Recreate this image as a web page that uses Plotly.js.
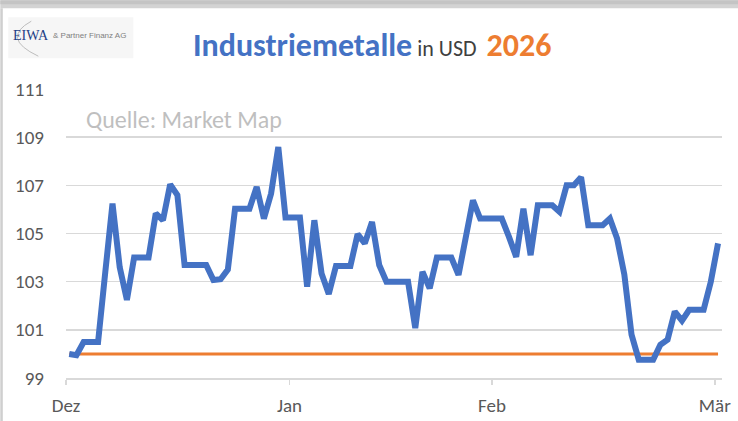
<!DOCTYPE html>
<html>
<head>
<meta charset="utf-8">
<script src="https://cdn.plot.ly/plotly-3.0.1.min.js"></script>
<style>
html,body{margin:0;padding:0;background:#fff;}
#chart{width:738px;height:421px;}
</style>
</head>
<body>
<div id="chart"></div>
<script>
// Daily index values (Dec 1 = day 0)
const metalValues = [
  100.0, 99.95, 100.49, 100.49, 100.49, 103.4, 106.24, 103.6, 102.24, 104.0,
  104.0, 104.0, 105.83, 105.55, 107.04, 106.6, 103.69, 103.69, 103.69, 103.69,
  103.07, 103.1, 103.5, 106.03, 106.03, 106.03, 106.93, 105.62, 106.66, 108.59,
  105.66, 105.66, 105.66, 102.79, 105.55, 103.34, 102.49, 103.65, 103.65, 103.65,
  104.97, 104.59, 105.48, 103.69, 103.0, 103.0, 103.0, 103.0, 101.07, 103.41,
  102.72, 104.0, 104.0, 104.0, 103.28, 104.86, 106.38, 105.62, 105.62, 105.62,
  105.62, 104.86, 104.03, 106.03, 104.1, 106.17, 106.17, 106.17, 105.9, 107.0,
  107.0, 107.34, 105.34, 105.34, 105.34, 105.62, 104.79, 103.3, 100.8, 99.76,
  99.76, 99.76, 100.38, 100.59, 101.76, 101.38, 101.83, 101.83, 101.83, 103.0,
  104.59
];
const baselineValues = [100, 100];
const monthLabels = ["Dez", "Jan", "Feb", "Mär"];
const monthTickDays = [0, 31, 59.1, 90];
const yTicks = [99, 101, 103, 105, 107, 109, 111];

const dayX = metalValues.map((_, i) => i + 0.45);
const baseX = [dayX[0], dayX[dayX.length - 1]];

const FONT = "Carlito, Calibri, Lato, sans-serif";

// pixel -> paper helpers for decorations
const L = 65.7, R = 721.7, T = 88.8, B = 377.7;
const px = v => (v - L) / (R - L);
const py = v => (B - v) / (B - T);

const traces = [
  {
    x: baseX, y: baselineValues, type: "scatter", mode: "lines",
    line: {color: "#ED7D31", width: 3}, hoverinfo: "skip"
  },
  {
    x: dayX, y: metalValues, type: "scatter", mode: "lines",
    line: {color: "#4472C4", width: 6, shape: "linear"}
  }
];

const layout = {
  width: 738, height: 421,
  margin: {l: L, r: 738 - R, t: T, b: 421 - B, pad: 0},
  paper_bgcolor: "#ffffff",
  plot_bgcolor: "#ffffff",
  showlegend: false,
  font: {family: FONT, color: "#595959", size: 19},
  xaxis: {
    range: [0, 91], tickvals: monthTickDays, ticktext: monthLabels,
    showgrid: false, zeroline: false,
    showline: true, linecolor: "#d9d9d9", linewidth: 1.5,
    ticks: "outside", ticklen: 5, tickwidth: 1.5, tickcolor: "#d9d9d9",
    ticklabelstandoff: 5,
    tickfont: {family: FONT, size: 19, color: "#595959"}
  },
  yaxis: {
    range: [99, 111], tickvals: yTicks,
    showgrid: true, gridcolor: "#d9d9d9", gridwidth: 1.5,
    zeroline: false, showline: false, ticks: "",
    ticklabelstandoff: 21,
    tickfont: {family: FONT, size: 19, color: "#595959"}
  },
  shapes: [
    {type: "rect", xref: "paper", yref: "paper", x0: px(0), x1: px(738), y0: py(8), y1: py(0),
     fillcolor: "#d3d3d3", line: {width: 0}, layer: "above"},
    {type: "rect", xref: "paper", yref: "paper", x0: px(0), x1: px(738), y0: py(4), y1: py(0),
     fillcolor: "#c4c4c4", line: {width: 0}, layer: "above"},
    {type: "rect", xref: "paper", yref: "paper", x0: px(0), x1: px(2.5), y0: py(421), y1: py(8),
     fillcolor: "#cfcfcf", line: {width: 0}, layer: "above"},
    {type: "rect", xref: "paper", yref: "paper", x0: px(8), x1: px(133), y0: py(58), y1: py(17),
     fillcolor: "#f6f6f6", line: {width: 0}, layer: "below"},
    {type: "path", xref: "paper", yref: "paper",
     path: `M ${px(31)} ${py(21)} Q ${px(0)} ${py(38)} ${px(38)} ${py(56)}`,
     line: {color: "#bdbdbd", width: 1}}
  ],
  annotations: [
    {xref: "paper", yref: "paper", x: px(372), y: py(45), xanchor: "center", yanchor: "middle",
     showarrow: false,
     text: '<b><span style="color:#4472C4;font-size:32px">Industriemetalle</span></b>' +
           '<span style="color:#404040;font-size:22px"> in USD  </span>' +
           '<b><span style="color:#ED7D31;font-size:32px">2026</span></b>',
     font: {family: FONT, size: 32}},
    {xref: "paper", yref: "paper", x: px(84), y: py(119), xanchor: "left", yanchor: "middle",
     showarrow: false, text: "Quelle: Market Map",
     font: {family: FONT, size: 24, color: "#bfbfbf"}},
    {xref: "paper", yref: "paper", x: px(11), y: py(35), xanchor: "left", yanchor: "middle",
     showarrow: false, text: "EIWA",
     font: {family: "Liberation Serif, DejaVu Serif, serif", size: 14, color: "#1f3f86"}},
    {xref: "paper", yref: "paper", x: px(51), y: py(35), xanchor: "left", yanchor: "middle",
     showarrow: false, text: "& Partner Finanz AG",
     font: {family: "Liberation Sans Narrow, Liberation Sans, sans-serif", size: 8, color: "#7f7f7f"}}
  ]
};

Plotly.newPlot("chart", traces, layout, {displayModeBar: false, staticPlot: true});
</script>
</body>
</html>
